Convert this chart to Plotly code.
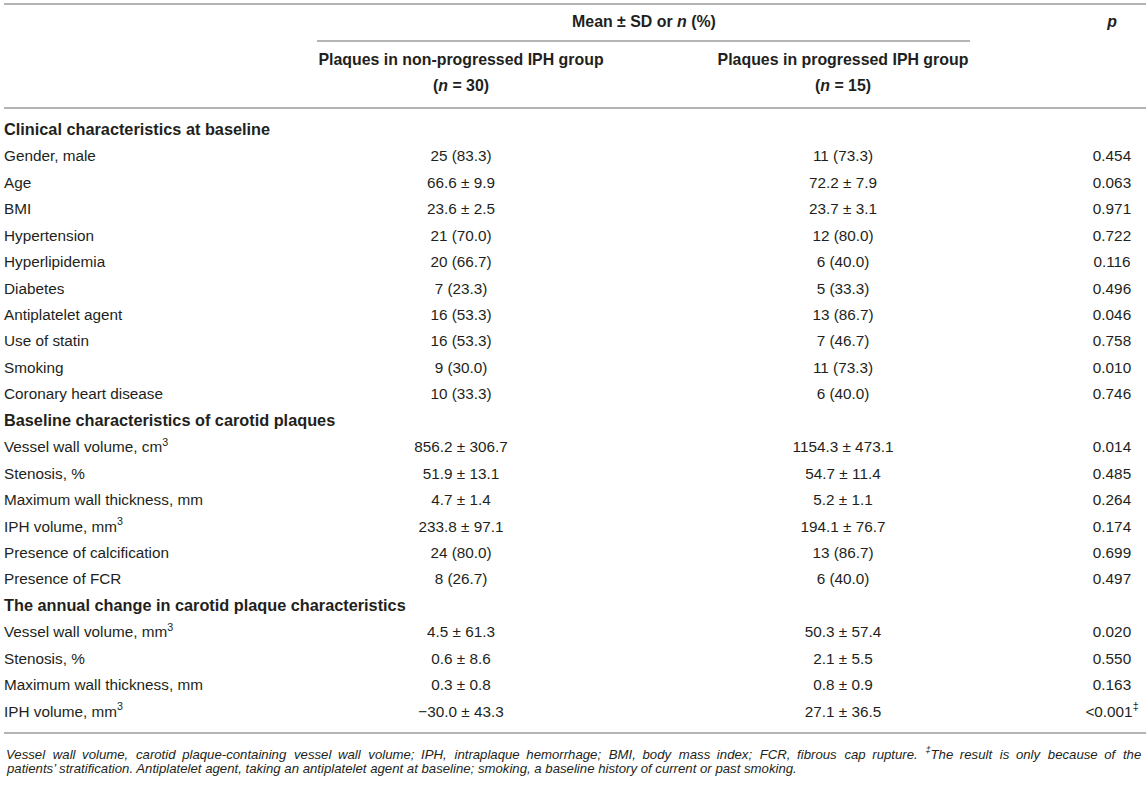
import plotly.graph_objs as go

# ---- table content -------------------------------------------------------
sections = [
    "Clinical characteristics at baseline",
    "Baseline characteristics of carotid plaques",
    "The annual change in carotid plaque characteristics",
]

clinical_labels = ["Gender, male", "Age", "BMI", "Hypertension", "Hyperlipidemia", "Diabetes",
                   "Antiplatelet agent", "Use of statin", "Smoking", "Coronary heart disease"]
clinical_nonprog = ["25 (83.3)", "66.6 ± 9.9", "23.6 ± 2.5", "21 (70.0)", "20 (66.7)", "7 (23.3)",
                    "16 (53.3)", "16 (53.3)", "9 (30.0)", "10 (33.3)"]
clinical_prog = ["11 (73.3)", "72.2 ± 7.9", "23.7 ± 3.1", "12 (80.0)", "6 (40.0)", "5 (33.3)",
                 "13 (86.7)", "7 (46.7)", "11 (73.3)", "6 (40.0)"]
clinical_p = ["0.454", "0.063", "0.971", "0.722", "0.116", "0.496", "0.046", "0.758", "0.010", "0.746"]

baseline_labels = ["Vessel wall volume, cm<sup>3</sup>", "Stenosis, %", "Maximum wall thickness, mm",
                   "IPH volume, mm<sup>3</sup>", "Presence of calcification", "Presence of FCR"]
baseline_nonprog = ["856.2 ± 306.7", "51.9 ± 13.1", "4.7 ± 1.4", "233.8 ± 97.1", "24 (80.0)", "8 (26.7)"]
baseline_prog = ["1154.3 ± 473.1", "54.7 ± 11.4", "5.2 ± 1.1", "194.1 ± 76.7", "13 (86.7)", "6 (40.0)"]
baseline_p = ["0.014", "0.485", "0.264", "0.174", "0.699", "0.497"]

annual_labels = ["Vessel wall volume, mm<sup>3</sup>", "Stenosis, %", "Maximum wall thickness, mm",
                 "IPH volume, mm<sup>3</sup>"]
annual_nonprog = ["4.5 ± 61.3", "0.6 ± 8.6", "0.3 ± 0.8", "\u221230.0 ± 43.3"]
annual_prog = ["50.3 ± 57.4", "2.1 ± 5.5", "0.8 ± 0.9", "27.1 ± 36.5"]
annual_p = ["0.020", "0.550", "0.163", "&lt;0.001<sup>\u2021</sup>"]

header_top = "Mean ± SD or <i>n</i> (%)"
header_groups = ["Plaques in non-progressed IPH group", "Plaques in progressed IPH group"]
header_n = ["(<i>n</i> = 30)", "(<i>n</i> = 15)"]
header_p = "<i>p</i>"

footnote = [
    "Vessel wall volume, carotid plaque-containing vessel wall volume; IPH, intraplaque hemorrhage; "
    "BMI, body mass index; FCR, fibrous cap rupture. <sup>\u2021</sup>The result is only because of the",
    "patients\u2019 stratification. Antiplatelet agent, taking an antiplatelet agent at baseline; "
    "smoking, a baseline history of current or past smoking.",
]

# ---- layout constants (pixel-like axis units) ----------------------------
W, H = 1146, 785
X_LABEL, X_G1, X_G2, X_P = 4, 461, 843, 1112
ROW0, ROW_H = 131, 26.45
FONT = "Liberation Sans, Arial, Helvetica, sans-serif"
TXT = "#231f20"
RULE = "#b4b4b4"
FS, FS_B, FS_SEC, FS_NOTE = 15.3, 15.9, 16.3, 13.2

# assemble body rows
labels, label_y, g1, g2, pv, val_y = [], [], [], [], [], []
sec_labels, sec_y = [], []
row = 0
for name, lab, a, b, p in zip(
        sections,
        [clinical_labels, baseline_labels, annual_labels],
        [clinical_nonprog, baseline_nonprog, annual_nonprog],
        [clinical_prog, baseline_prog, annual_prog],
        [clinical_p, baseline_p, annual_p]):
    sec_labels.append("<b>" + name + "</b>")
    sec_y.append(ROW0 + row * ROW_H)
    row += 1
    for i in range(len(lab)):
        y = ROW0 + row * ROW_H
        labels.append(lab[i]); label_y.append(y)
        g1.append(a[i]); g2.append(b[i]); pv.append(p[i]); val_y.append(y)
        row += 1

fig = go.Figure()
font = dict(family=FONT, size=FS, color=TXT)
bfont = dict(family=FONT, size=FS_B, color=TXT)

fig.add_trace(go.Scatter(x=[X_LABEL] * len(sec_y), y=sec_y, text=sec_labels, mode="text",
                         textposition="middle right", hoverinfo="skip",
                         textfont=dict(family=FONT, size=FS_SEC, color=TXT)))
fig.add_trace(go.Scatter(x=[X_LABEL] * len(label_y), y=label_y, text=labels, mode="text",
                         textposition="middle right", textfont=font, hoverinfo="skip"))
for xc, col in [(X_G1, g1), (X_G2, g2), (X_P, pv)]:
    fig.add_trace(go.Scatter(x=[xc] * len(val_y), y=val_y, text=col, mode="text",
                             textposition="middle center", textfont=font, hoverinfo="skip"))

# header cells
fig.add_trace(go.Scatter(x=[(X_G1 + X_G2) / 2 - 8, X_P], y=[23, 23],
                         text=["<b>" + header_top + "</b>", "<b>" + header_p + "</b>"],
                         mode="text", textposition="middle center", textfont=bfont, hoverinfo="skip"))
fig.add_trace(go.Scatter(x=[X_G1, X_G2, X_G1, X_G2], y=[61, 61, 87, 87],
                         text=["<b>" + t + "</b>" for t in header_groups + header_n],
                         mode="text", textposition="middle center", textfont=bfont, hoverinfo="skip"))

# rules
for x0, x1, y in [(4, W, 4), (317, 970, 41), (4, W, 108), (4, W, 733)]:
    fig.add_shape(type="line", x0=x0, x1=x1, y0=y, y1=y, xref="x", yref="y",
                  line=dict(color=RULE, width=2))

# footnote (first line is justified in the source, so widen its word gaps)
words = footnote[0].split(" ")
first = words[0]
for k, w in enumerate(words[1:]):
    first += ("\u2002\u200a" if k % 2 == 0 else "\u2002") + w
note_lines = [first, footnote[1]]
for i, line in enumerate(note_lines):
    fig.add_annotation(x=X_LABEL, y=753 + i * 15.5, xref="x", yref="y", text="<i>" + line + "</i>",
                       showarrow=False, xanchor="left", yanchor="middle",
                       font=dict(family=FONT, size=FS_NOTE, color=TXT))

fig.update_layout(
    width=W, height=H, margin=dict(l=0, r=0, t=0, b=0),
    paper_bgcolor="white", plot_bgcolor="white", showlegend=False,
    xaxis=dict(range=[0, W], visible=False, fixedrange=True),
    yaxis=dict(range=[H, 0], visible=False, fixedrange=True),
)

fig.write_html("out.html", config={"displayModeBar": False},
               post_script="document.body.style.margin='0';")
